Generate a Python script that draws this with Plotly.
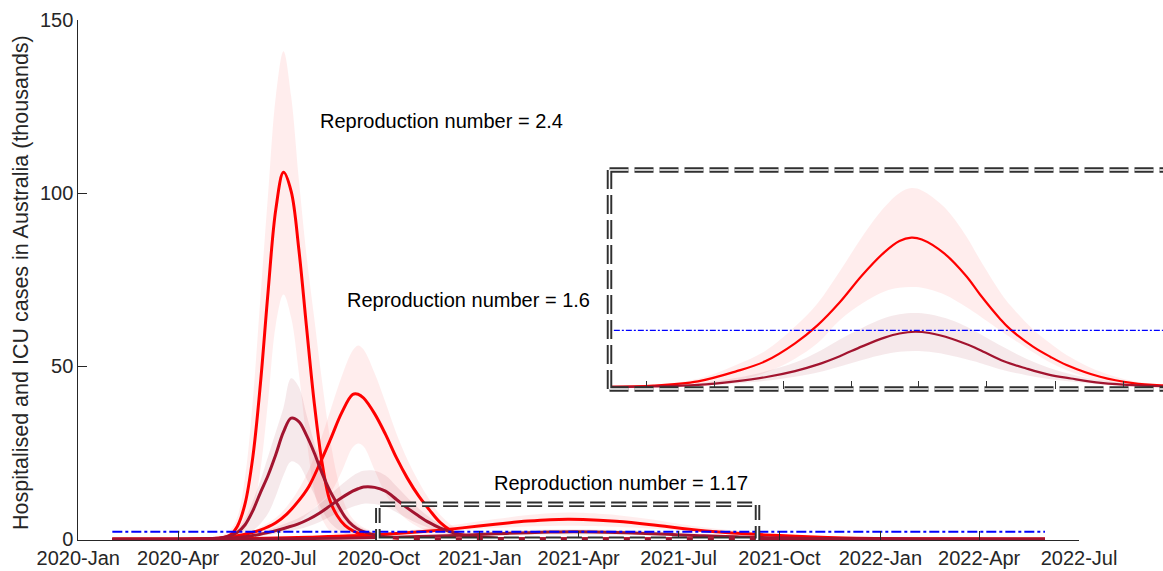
import pandas as pd
import plotly.graph_objects as go

START = pd.Timestamp("2020-01-01")

# ---------------- data (days since 2020-01-01, values in thousands) ----------------
r24_day = [31, 110, 124, 138, 145, 152, 159, 166, 173, 180, 187, 194, 201, 208, 215, 222, 229, 236, 243, 250, 257, 271, 292, 320, 881]
r24_hosp = [0, 0.0, 0.06, 1.15, 3.8, 10.3, 23.6, 45.0, 71.7, 95.3, 106.0, 100.5, 83.7, 61.3, 39.5, 22.4, 11.5, 6.8, 4.0, 2.5, 1.6, 0.8, 0.3, 0.1, 0]
r24_hosp_hi = [0, 0.05, 0.3, 2.5, 6.5, 18, 40, 70, 100, 128, 141, 128, 104, 82, 64, 46, 30, 18, 10, 6, 4, 2, 0.8, 0.3, 0]
r24_hosp_lo = [0, 0, 0.02, 0.3, 1.0, 3.0, 8.0, 20, 40, 62, 70.7, 64, 48, 29, 14, 6, 2.5, 1.0, 0.5, 0.3, 0.2, 0.1, 0.05, 0, 0]
r24_icu = [0, 0.05, 0.2, 1.0, 2.0, 4.2, 8.2, 13.5, 18.5, 24.5, 31, 35.0, 34.0, 30.0, 25.0, 19.2, 14.2, 10.2, 6.5, 4.0, 2.6, 1.2, 0.4, 0.1, 0]
r24_icu_hi = [0, 0.1, 0.4, 1.5, 3, 6, 11, 17, 24, 31, 38, 46.5, 44, 36, 28, 21, 15.5, 11, 7.5, 5, 3.5, 1.8, 0.6, 0.2, 0]
r24_icu_lo = [0, 0, 0.05, 0.3, 0.5, 1.2, 2.5, 4.5, 7.5, 12.5, 18.5, 22.5, 21.5, 17.5, 13, 8.5, 5, 3, 1.6, 0.8, 0.4, 0.1, 0, 0, 0]

r16_day = [31, 130, 150, 165, 180, 190, 200, 210, 220, 230, 240, 250, 255, 260, 270, 280, 290, 300, 310, 320, 330, 345, 360, 380, 410, 881]
r16_hosp = [0, 0.4, 1.3, 2.6, 4.8, 7.3, 10.8, 15.2, 21.8, 29.0, 36.5, 41.8, 41.9, 40.8, 36.3, 30.3, 23.5, 17.6, 12.6, 8.5, 4.8, 1.6, 0.8, 0.3, 0.1, 0]
r16_hosp_hi = [0, 0.5, 1.7, 3.4, 6.2, 9.5, 14, 20, 28, 37.5, 47, 54.5, 56, 54.8, 48, 39.5, 30.5, 23, 16.8, 11.5, 7, 3, 1.3, 0.5, 0.15, 0]
r16_hosp_lo = [0, 0.1, 0.4, 0.9, 1.8, 3.0, 4.8, 7.5, 10.5, 13.5, 19.5, 26.5, 27.7, 26.8, 20, 13, 8.5, 5.5, 3.5, 2.2, 1.3, 0.5, 0.2, 0.05, 0, 0]
r16_icu = [0, 0.2, 0.7, 1.4, 2.5, 3.4, 4.4, 5.8, 7.6, 9.8, 12.0, 13.9, 14.6, 15.1, 15.0, 13.9, 11.5, 9.0, 6.8, 4.8, 3.2, 1.6, 0.8, 0.3, 0.1, 0]
r16_icu_hi = [0, 0.3, 1.0, 2.0, 3.5, 4.7, 6.0, 7.8, 10.2, 13, 15.8, 18.3, 19.2, 19.8, 19.8, 18.4, 15.3, 12, 9, 6.4, 4.3, 2.2, 1.1, 0.4, 0.15, 0]
r16_icu_lo = [0, 0.1, 0.4, 0.9, 1.6, 2.2, 2.9, 3.8, 5.0, 6.6, 8.1, 9.4, 9.9, 10.3, 10.2, 9.5, 7.8, 6.0, 4.5, 3.2, 2.1, 1.0, 0.5, 0.2, 0.05, 0]

r117_day = [31, 100, 160, 210, 250, 290, 320, 350, 380, 410, 430, 446, 460, 490, 520, 538, 565, 578, 609, 632, 654, 699, 743, 783, 881]
r117_hosp = [0, 0.05, 0.22, 0.6, 1.0, 1.7, 2.4, 3.3, 4.35, 5.25, 5.68, 5.81, 5.74, 5.2, 4.3, 3.6, 2.65, 2.26, 1.57, 1.18, 0.86, 0.40, 0.15, 0.06, 0.0]
r117_hosp_hi = [0, 0.08, 0.32, 0.85, 1.4, 2.35, 3.25, 4.5, 5.85, 7.0, 7.55, 7.74, 7.65, 7.0, 5.85, 4.95, 3.7, 3.2, 2.25, 1.7, 1.25, 0.6, 0.23, 0.09, 0.0]
r117_hosp_lo = [0, 0.02, 0.1, 0.24, 0.55, 1.1, 1.7, 2.6, 3.25, 3.72, 3.86, 3.89, 3.86, 3.6, 3.1, 2.75, 2.2, 1.95, 1.35, 0.95, 0.65, 0.25, 0.08, 0.03, 0.0]
r117_icu_day = [31, 100, 160, 210, 250, 290, 320, 350, 380, 410, 430, 451, 470, 500, 530, 545, 570, 600, 630, 660, 700, 750, 800, 881]
r117_icu = [0, 0.02, 0.08, 0.22, 0.38, 0.62, 0.87, 1.2, 1.58, 1.92, 2.08, 2.15, 2.1, 1.88, 1.55, 1.34, 1.0, 0.72, 0.48, 0.33, 0.16, 0.06, 0.02, 0.0]
r117_icu_hi = [0, 0.04, 0.14, 0.35, 0.6, 0.95, 1.35, 1.85, 2.3, 2.68, 2.83, 2.88, 2.83, 2.6, 2.2, 1.95, 1.55, 1.1, 0.75, 0.5, 0.26, 0.1, 0.04, 0.0]
r117_icu_lo = [0, 0.01, 0.05, 0.14, 0.24, 0.4, 0.56, 0.8, 1.05, 1.27, 1.37, 1.4, 1.37, 1.22, 1.0, 0.87, 0.65, 0.46, 0.31, 0.21, 0.1, 0.04, 0.01, 0.0]

threshold_dates = ["2020-02-01", "2022-05-31"]
threshold_value = 2.2

labels = ["Reproduction number = 2.4", "Reproduction number = 1.6", "Reproduction number = 1.17"]
y_title = "Hospitalised and ICU cases in Australia (thousands)"
y_ticks = [0, 50, 100, 150]
zoom_box_x = ["2020-09-30", "2021-09-11"]
zoom_box_y = [0, 10.1]

# ---------------- styling ----------------
W, H = 1163, 571
RED = "#FF0000"
ICU = "#A2142F"
RED_BAND = "rgba(255,0,0,0.07)"
ICU_BAND = "rgba(162,20,47,0.095)"
AX = "#262626"
FONT = "Liberation Sans, Arial, sans-serif"


def to_dates(days):
    return [START + pd.Timedelta(days=d) for d in days]


def px_x(p):
    return p / W


def px_y(p):
    return (H - p) / H


fig = go.Figure()


def add_band(days, lo, hi, color, xa, ya):
    d = to_dates(days)
    fig.add_trace(go.Scatter(x=d + d[::-1], y=list(hi) + list(lo)[::-1], fill="toself",
                             fillcolor=color, line=dict(width=0, shape="spline"),
                             mode="lines", hoverinfo="skip", xaxis=xa, yaxis=ya))


def add_line(days, vals, color, width, xa, ya):
    fig.add_trace(go.Scatter(x=to_dates(days), y=vals, mode="lines",
                             line=dict(color=color, width=width, shape="spline"),
                             xaxis=xa, yaxis=ya))


# main panel
for days, lo, hi in [(r24_day, r24_hosp_lo, r24_hosp_hi), (r16_day, r16_hosp_lo, r16_hosp_hi),
                     (r117_day, r117_hosp_lo, r117_hosp_hi)]:
    add_band(days, lo, hi, RED_BAND, "x", "y")
for days, lo, hi in [(r24_day, r24_icu_lo, r24_icu_hi), (r16_day, r16_icu_lo, r16_icu_hi),
                     (r117_icu_day, r117_icu_lo, r117_icu_hi)]:
    add_band(days, lo, hi, ICU_BAND, "x", "y")
for days, v in [(r24_day, r24_hosp), (r16_day, r16_hosp), (r117_day, r117_hosp)]:
    add_line(days, v, RED, 3, "x", "y")
for days, v in [(r24_day, r24_icu), (r16_day, r16_icu), (r117_icu_day, r117_icu)]:
    add_line(days, v, ICU, 3, "x", "y")
fig.add_trace(go.Scatter(x=threshold_dates, y=[threshold_value] * 2, mode="lines",
                         line=dict(color="#0000FF", width=2, dash="10px,3px,3px,3px"),
                         xaxis="x", yaxis="y"))

# inset panel (R = 1.17)
add_band(r117_day, r117_hosp_lo, r117_hosp_hi, RED_BAND, "x2", "y2")
add_band(r117_icu_day, r117_icu_lo, r117_icu_hi, ICU_BAND, "x2", "y2")
add_line(r117_day, r117_hosp, RED, 2.2, "x2", "y2")
add_line(r117_icu_day, r117_icu, ICU, 2.2, "x2", "y2")
fig.add_trace(go.Scatter(x=threshold_dates, y=[threshold_value] * 2, mode="lines",
                         line=dict(color="#0000FF", width=1.2, dash="6px,2px,2px,2px"),
                         xaxis="x2", yaxis="y2"))

# ---------------- axes ----------------
main_left, main_right, main_bottom, main_top = 78.3, 1079.0, 539.3, 20.0
y_lo = -0.2
px_per_unit = (main_bottom - main_top) / 150.0
dom_bottom = main_bottom + (-y_lo) * px_per_unit

inset_left, inset_top, inset_bottom = 609.5, 170.0, 389.0
inset_zero_px, inset_px_per_unit = 387.0, 25.7
inset_px_per_day = 68.1 / 91.3
inset_tick0_px = 646.6  # 2020-04-01
inset_x0 = pd.Timestamp("2020-04-01") - pd.Timedelta(days=(inset_tick0_px - inset_left) / inset_px_per_day)
inset_x1 = pd.Timestamp("2020-04-01") + pd.Timedelta(days=(W - inset_tick0_px) / inset_px_per_day)

fig.update_layout(
    width=W, height=H, margin=dict(l=0, r=0, t=0, b=0),
    paper_bgcolor="white", plot_bgcolor="white", showlegend=False,
    font=dict(family=FONT, size=20, color=AX),
    xaxis=dict(domain=[px_x(main_left), px_x(main_right)], anchor="y", type="date",
               range=["2020-01-01", "2022-07-01"], tick0="2020-01-01", dtick="M3",
               tickformat="%Y-%b", ticks="inside", ticklen=9, tickcolor=AX,
               showline=True, linecolor=AX, linewidth=1, showgrid=False, zeroline=False,
               tickfont=dict(family=FONT, size=20, color=AX), automargin=False),
    yaxis=dict(domain=[px_y(dom_bottom), px_y(main_top)], anchor="x", range=[y_lo, 150],
               tickvals=y_ticks, ticks="inside", ticklen=9, tickcolor=AX,
               showline=True, linecolor=AX, linewidth=1, showgrid=False, zeroline=False,
               tickfont=dict(family=FONT, size=20, color=AX), automargin=False),
    xaxis2=dict(domain=[px_x(inset_left), 1.0], anchor="y2", type="date",
                range=[inset_x0, inset_x1], tick0="2020-01-01", dtick="M3",
                showticklabels=False, ticks="inside", ticklen=8, tickcolor="#333333",
                showline=False, showgrid=False, zeroline=False),
    yaxis2=dict(domain=[px_y(inset_bottom), px_y(inset_top)], anchor="x2",
                range=[-(inset_bottom - inset_zero_px) / inset_px_per_unit,
                       (inset_zero_px - inset_top) / inset_px_per_unit],
                showticklabels=False, ticks="", showline=False, showgrid=False, zeroline=False),
)

# ---------------- dashed double-line boxes ----------------
shapes = []
for color, width in [("#303030", 5.5), ("white", 1.6)]:
    shapes.append(dict(type="rect", xref="x", yref="y", x0=zoom_box_x[0], x1=zoom_box_x[1],
                       y0=zoom_box_y[0], y1=zoom_box_y[1], fillcolor="rgba(0,0,0,0)",
                       line=dict(color=color, width=width, dash="15px,6px")))
    for (x0, y0, x1, y1) in [(inset_left, inset_top, W + 20, inset_top),
                             (inset_left, inset_bottom, W + 20, inset_bottom),
                             (inset_left, inset_top, inset_left, inset_bottom)]:
        shapes.append(dict(type="line", xref="paper", yref="paper",
                           x0=px_x(x0), y0=px_y(y0), x1=px_x(x1), y1=px_y(y1),
                           line=dict(color=color, width=width, dash="19px,6px")))
fig.update_layout(shapes=shapes)

# ---------------- text ----------------
ann = []
for txt, (lx, ly) in zip(labels, [(318, 121), (345, 300), (492, 483)]):
    ann.append(dict(text=txt, xref="paper", yref="paper", x=px_x(lx), y=px_y(ly),
                    xanchor="left", yanchor="middle", showarrow=False,
                    font=dict(family=FONT, size=20, color="#000000")))
ann.append(dict(text=y_title, xref="paper", yref="paper", x=px_x(21), y=px_y(283),
                xanchor="center", yanchor="middle", textangle=-90, showarrow=False,
                font=dict(family=FONT, size=21.5, color=AX)))
fig.update_layout(annotations=ann)

fig.write_html("out.html", config={"displayModeBar": False},
               post_script="document.body.style.margin='0px';document.body.style.overflow='hidden';")
